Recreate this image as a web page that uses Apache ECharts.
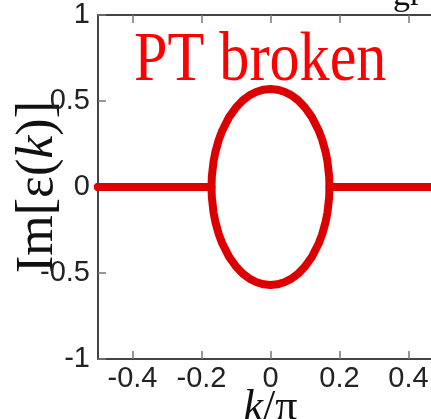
<!DOCTYPE html>
<html>
<head>
<meta charset="utf-8">
<script src="https://cdn.jsdelivr.net/npm/echarts@6/dist/echarts.min.js"></script>
<style>
  html, body { margin: 0; padding: 0; background: #fff; }
  #chart { width: 431px; height: 419px; }
</style>
</head>
<body>
<div id="chart"></div>
<script>
// Imaginary part of the two eigenvalue branches versus k/π
const kArc = [-0.171, -0.170, -0.165, -0.160, -0.150, -0.140, -0.120, -0.100, -0.080, -0.060, -0.040, -0.020, 0.000,
              0.020, 0.040, 0.060, 0.080, 0.100, 0.120, 0.140, 0.150, 0.160, 0.165, 0.170, 0.171];
const imArc = [0.000, 0.062, 0.150, 0.201, 0.274, 0.327, 0.406, 0.462, 0.504, 0.534, 0.554, 0.566, 0.570,
               0.566, 0.554, 0.534, 0.504, 0.462, 0.406, 0.327, 0.274, 0.201, 0.150, 0.062, 0.000];
// real-spectrum stretches where Im = 0
const kLeft = [-0.5, -0.4, -0.3, -0.2, -0.171];
const kRight = [0.171, 0.2, 0.3, 0.4, 0.5];

const yTicks = [-1, -0.5, 0, 0.5, 1];
const xTicks = [-0.4, -0.2, 0, 0.2, 0.4];

function branch(sign) {
  const pts = [];
  kLeft.forEach(k => pts.push([k, 0]));
  kArc.forEach((k, i) => pts.push([k, sign * imArc[i]]));
  kRight.forEach(k => pts.push([k, 0]));
  return pts;
}

const red = '#dd0000';
const axisColor = '#444';

const chart = echarts.init(document.getElementById('chart'), null, { renderer: 'canvas' });

const lineSeries = (data) => ({
  type: 'line',
  data: data,
  showSymbol: false,
  symbol: 'none',
  clip: false,
  smooth: false,
  lineStyle: { color: red, width: 8, cap: 'round', join: 'round' },
  silent: true,
  animation: false
});

chart.setOption({
  animation: false,
  grid: { left: 98, top: 15, width: 345, height: 344, containLabel: false, outerBoundsMode: 'none' },
  xAxis: [{
    type: 'value', min: -0.5, max: 0.5, position: 'bottom',
    axisLine: { onZero: false, lineStyle: { color: axisColor, width: 2 } },
    axisTick: { inside: true, length: 8, customValues: xTicks, lineStyle: { color: '#777', width: 1.5 } },
    axisLabel: { customValues: xTicks, margin: 5, color: '#222', fontSize: 29, fontFamily: 'Liberation Sans' },
    splitLine: { show: false },
    name: '{i|k}{a|/π}',
    nameLocation: 'middle', nameGap: 27, nameMoveOverlap: false,
    nameTextStyle: {
      rich: {
        i: { fontFamily: 'Liberation Serif', fontStyle: 'italic', fontSize: 44, color: '#111' },
        a: { fontFamily: 'Liberation Serif', fontSize: 44, color: '#111' }
      }
    }
  }, {
    type: 'value', min: -0.5, max: 0.5, position: 'top',
    axisLine: { onZero: false, lineStyle: { color: axisColor, width: 2 } },
    axisTick: { inside: true, length: 8, customValues: xTicks, lineStyle: { color: '#777', width: 1.5 } },
    axisLabel: { show: false },
    splitLine: { show: false }
  }],
  yAxis: [{
    type: 'value', min: -1, max: 1, interval: 0.5, position: 'left',
    axisLine: { show: true, onZero: false, lineStyle: { color: axisColor, width: 2 } },
    axisTick: { show: true, inside: true, length: 8, customValues: yTicks, lineStyle: { color: '#777', width: 1.5 } },
    axisLabel: { margin: 8, color: '#222', fontSize: 29, fontFamily: 'Liberation Sans' },
    splitLine: { show: false },
    name: '{a|Im[ε(}{i|k}{a|)]}',
    nameLocation: 'middle', nameGap: 34, nameRotate: 90, nameMoveOverlap: false,
    nameTextStyle: {
      rich: {
        i: { fontFamily: 'Liberation Serif', fontStyle: 'italic', fontSize: 52, color: '#111' },
        a: { fontFamily: 'Liberation Serif', fontSize: 52, color: '#111' }
      }
    }
  }],
  graphic: [{
    type: 'text', x: 134, y: 27, scaleX: 0.86, z: 100,
    style: { text: 'PT broken', fill: '#ff0000', font: 'normal 70px "Liberation Serif", serif', verticalAlign: 'top' }
  }, {
    type: 'text', x: 393, y: -21, z: 100,
    style: { text: 'gr', fill: '#111', font: 'normal 34px "Liberation Serif", serif', verticalAlign: 'top' }
  }],
  series: [lineSeries(branch(1)), lineSeries(branch(-1))]
});
</script>
</body>
</html>
